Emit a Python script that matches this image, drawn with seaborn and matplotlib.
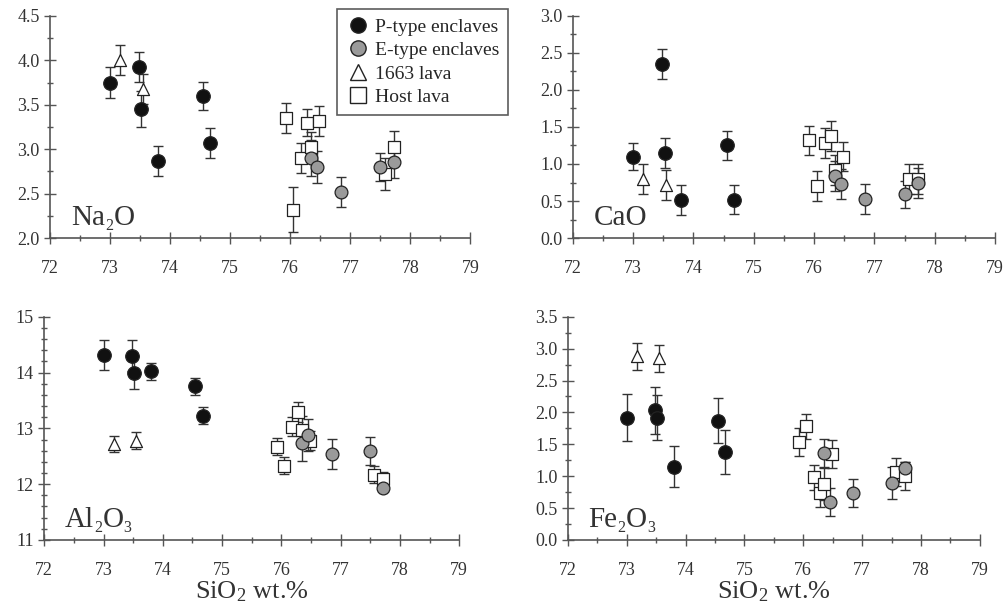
import numpy as np
import pandas as pd
import matplotlib
matplotlib.use("Agg")
import matplotlib.pyplot as plt
from matplotlib.ticker import MultipleLocator
import seaborn as sns

# ---- data ----
grupos = ["P-type enclaves", "E-type enclaves", "1663 lava", "Host lava"]

p_sio2 = [73.00, 73.48, 73.52, 73.80, 74.55, 74.67]
p_na2o = [3.75, 3.93, 3.45, 2.87, 3.60, 3.07]
p_na2o_err = [0.17, 0.17, 0.20, 0.17, 0.16, 0.17]
p_cao = [1.10, 2.35, 1.15, 0.51, 1.25, 0.52]
p_cao_err = [0.18, 0.20, 0.20, 0.20, 0.20, 0.20]
p_al2o3 = [14.32, 14.30, 14.00, 14.02, 13.75, 13.23]
p_al2o3_err = [0.27, 0.28, 0.30, 0.15, 0.15, 0.15]
p_fe2o3 = [1.92, 2.03, 1.92, 1.15, 1.87, 1.38]
p_fe2o3_err = [0.37, 0.37, 0.35, 0.32, 0.35, 0.35]

e_sio2 = [76.35, 76.45, 76.85, 77.50, 77.72]
e_na2o = [2.90, 2.80, 2.52, 2.80, 2.86]
e_na2o_err = [0.20, 0.18, 0.17, 0.16, 0.18]
e_cao = [0.84, 0.73, 0.53, 0.59, 0.74]
e_cao_err = [0.20, 0.20, 0.20, 0.18, 0.20]
e_al2o3 = [12.73, 12.88, 12.54, 12.60, 11.93]
e_al2o3_err = [0.32, 0.28, 0.27, 0.25, 0.05]
e_fe2o3 = [1.37, 0.60, 0.73, 0.90, 1.13]
e_fe2o3_err = [0.22, 0.22, 0.22, 0.25, 0.10]

t_sio2 = [73.17, 73.55]
t_na2o = [4.00, 3.68]
t_na2o_err = [0.17, 0.17]
t_cao = [0.80, 0.72]
t_cao_err = [0.20, 0.20]
t_al2o3 = [12.72, 12.78]
t_al2o3_err = [0.15, 0.15]
t_fe2o3 = [2.88, 2.85]
t_fe2o3_err = [0.21, 0.21]

h_sio2 = [75.92, 76.05, 76.18, 76.28, 76.35, 76.48, 77.57, 77.72]
h_na2o = [3.35, 2.32, 2.90, 3.30, 3.02, 3.32, 2.72, 3.03]
h_na2o_err = [0.17, 0.25, 0.17, 0.15, 0.17, 0.17, 0.18, 0.17]
h_cao = [1.32, 0.70, 1.28, 1.38, 0.92, 1.10, 0.80, 0.80]
h_cao_err = [0.20, 0.20, 0.20, 0.20, 0.20, 0.20, 0.20, 0.20]
h_al2o3 = [12.67, 12.33, 13.03, 13.30, 12.97, 12.78, 12.17, 12.10]
h_al2o3_err = [0.15, 0.15, 0.17, 0.18, 0.25, 0.17, 0.15, 0.12]
h_fe2o3 = [1.53, 1.78, 0.98, 0.73, 0.88, 1.35, 1.07, 1.00]
h_fe2o3_err = [0.22, 0.20, 0.20, 0.22, 0.25, 0.22, 0.22, 0.22]

oxidos = ["Na2O", "CaO", "Al2O3", "Fe2O3"]
rotulos = {"Na2O": ["Na", "2", "O"], "CaO": ["CaO"], "Al2O3": ["Al", "2", "O", "3"],
           "Fe2O3": ["Fe", "2", "O", "3"]}

def montar(grupo, sio2, valores):
    d = {"grupo": grupo, "SiO2": sio2}
    for nome, (v, e) in zip(oxidos, valores):
        d[nome] = v
        d[nome + "_err"] = e
    return pd.DataFrame(d)

df = pd.concat([
    montar("P-type enclaves", p_sio2, [(p_na2o, p_na2o_err), (p_cao, p_cao_err),
                                      (p_al2o3, p_al2o3_err), (p_fe2o3, p_fe2o3_err)]),
    montar("E-type enclaves", e_sio2, [(e_na2o, e_na2o_err), (e_cao, e_cao_err),
                                      (e_al2o3, e_al2o3_err), (e_fe2o3, e_fe2o3_err)]),
    montar("1663 lava", t_sio2, [(t_na2o, t_na2o_err), (t_cao, t_cao_err),
                                (t_al2o3, t_al2o3_err), (t_fe2o3, t_fe2o3_err)]),
    montar("Host lava", h_sio2, [(h_na2o, h_na2o_err), (h_cao, h_cao_err),
                                (h_al2o3, h_al2o3_err), (h_fe2o3, h_fe2o3_err)]),
], ignore_index=True)

# ---- style ----
sns.set_style("ticks")
plt.rcParams["font.family"] = ["Liberation Serif", "DejaVu Serif"]
plt.rcParams["mathtext.fontset"] = "custom"
plt.rcParams["mathtext.rm"] = "Liberation Serif"
plt.rcParams["mathtext.it"] = "Liberation Serif:italic"
CINZA = "#555555"
TEXTO = "#333333"

marcadores = {"P-type enclaves": "o", "E-type enclaves": "o", "1663 lava": "^", "Host lava": "s"}
cores = {"P-type enclaves": "#111111", "E-type enclaves": "#9a9a9a", "1663 lava": "white", "Host lava": "white"}
tamanhos = {"P-type enclaves": 95, "E-type enclaves": 85, "1663 lava": 75, "Host lava": 80}


def escrever_formula(ax, x, y, partes, tam):
    # desenha texto com subscritos pequenos e baixos, peça por peça
    fig = ax.figure
    fig.canvas.draw()
    r = fig.canvas.get_renderer()
    xp, yp = ax.transAxes.transform((x, y))
    for p in partes:
        sub = p.isdigit()
        t = ax.annotate(p, xy=(0, 0), xycoords="figure pixels",
                        xytext=(xp, yp - (tam * 0.25 if sub else 0)),
                        textcoords="figure pixels",
                        fontsize=tam * 0.55 if sub else tam, color=TEXTO,
                        ha="left", va="baseline")
        bb = t.get_window_extent(renderer=r)
        xp = bb.x1 + (0.5 if sub else 0)


fig = plt.figure(figsize=(10.05, 6.15), dpi=100)
posicoes = {
    "Na2O": [0.050, 0.613, 0.418, 0.361],
    "CaO": [0.570, 0.613, 0.420, 0.361],
    "Al2O3": [0.044, 0.122, 0.413, 0.363],
    "Fe2O3": [0.565, 0.122, 0.410, 0.363],
}
limites = {"Na2O": (2.0, 4.5), "CaO": (0.0, 3.0), "Al2O3": (11, 15), "Fe2O3": (0.0, 3.5)}
passos = {"Na2O": (0.5, 0.25), "CaO": (0.5, 0.25), "Al2O3": (1, 0.2), "Fe2O3": (0.5, 0.25)}
formatos = {"Na2O": "%.1f", "CaO": "%.1f", "Al2O3": "%d", "Fe2O3": "%.1f"}

eixos = {}
for ox in oxidos:
    ax = fig.add_axes(posicoes[ox])
    eixos[ox] = ax
    ordem = ["Host lava", "1663 lava", "E-type enclaves", "P-type enclaves"]
    for g in ordem:
        sub = df[df["grupo"] == g]
        ax.errorbar(sub["SiO2"], sub[ox], yerr=sub[ox + "_err"], fmt="none",
                    ecolor="#333333", elinewidth=1.0, capsize=3.5, capthick=1.0, zorder=1)
    for g in ordem:
        sub = df[df["grupo"] == g]
        sns.scatterplot(data=sub, x="SiO2", y=ox, ax=ax, marker=marcadores[g],
                        color=cores[g], edgecolor="#222222", linewidth=0.9,
                        s=tamanhos[g], zorder=3, legend=False)

    ax.set_xlim(72, 79)
    ax.set_ylim(*limites[ox])
    ax.xaxis.set_major_locator(MultipleLocator(1))
    ax.xaxis.set_minor_locator(MultipleLocator(0.5))
    ax.yaxis.set_major_locator(MultipleLocator(passos[ox][0]))
    ax.yaxis.set_minor_locator(MultipleLocator(passos[ox][1]))
    ax.yaxis.set_major_formatter(plt.FormatStrFormatter(formatos[ox]))
    ax.tick_params(which="major", direction="inout", length=8, width=1, color=CINZA,
                   labelsize=13, labelcolor=TEXTO)
    ax.tick_params(which="minor", direction="inout", length=5, width=1, color=CINZA)
    ax.tick_params(axis="x", which="major", pad=12)
    sns.despine(ax=ax)
    for s in ["left", "bottom"]:
        ax.spines[s].set_color(CINZA)
        ax.spines[s].set_linewidth(1.2)
    ax.set_ylabel("")
    if ox in ("Al2O3", "Fe2O3"):
        ax.set_xlabel("SiO$_2$ wt.%", fontsize=19, color=TEXTO, labelpad=0)
    else:
        ax.set_xlabel("")

    if ox == "Na2O":
        h, l = [], []
        for g in grupos:
            h.append(plt.Line2D([], [], linestyle="none", marker=marcadores[g],
                                markerfacecolor=cores[g], markeredgecolor="#222222",
                                markersize=11 if g != "1663 lava" else 11.5,
                                markeredgewidth=1.0))
            l.append(g)
        leg = ax.legend(h, l, loc="upper left", bbox_to_anchor=(0.683, 1.03),
                        frameon=True, fancybox=False, edgecolor="#333333",
                        fontsize=14, handletextpad=0.3, handlelength=1.2,
                        labelspacing=0.3, borderpad=0.45, borderaxespad=0)
        leg.get_frame().set_linewidth(1.2)
        leg.set_zorder(10)

for ox in oxidos:
    escrever_formula(eixos[ox], 0.05, 0.06, rotulos[ox], 21)

fig.savefig("out.png", dpi=100)
